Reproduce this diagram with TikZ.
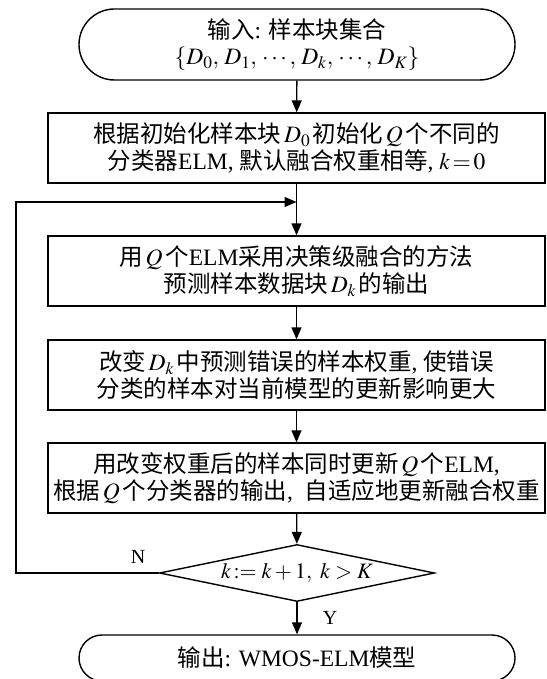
\documentclass[tikz,border=0pt]{standalone}
\usepackage{mathptmx}
\usepackage{fontspec}
\setmainfont{Liberation Serif}
\newfontfamily\cj{Noto Sans CJK SC}
\usetikzlibrary{arrows.meta,shapes.geometric,shapes.misc}
\tikzset{
  base/.style={draw, line width=1.4pt, font=\fontsize{23.5}{26.5}\selectfont, align=center, inner sep=0pt},
  proc/.style={base, rectangle, minimum width=497pt, minimum height=70pt},
  term/.style={base, rounded rectangle, minimum width=436pt},
  dec/.style={base, diamond, minimum width=275pt, minimum height=57pt, aspect=4.8},
  arr/.style={line width=1.4pt, -{Triangle[length=12pt,width=10pt]}},
  lab/.style={font=\fontsize{20}{24}\selectfont, inner sep=0pt}
}
\begin{document}
\begin{tikzpicture}[x=1pt,y=-1pt]
\useasboundingbox (0,0) rectangle (546,679);
\node[term, minimum height=71pt] (in) at (297,44.5) {{\cj 输入}: {\cj 样本块集合}\\$\{D_0,\, D_1,\, \cdots,\, D_k,\, \cdots,\, D_K\}$};
\node[proc] (b1) at (296.5,148) {{\cj 根据初始化样本块}$\,D_0\,${\cj 初始化}$\,Q\,${\cj 个不同的}\\{\cj 分类器}ELM, {\cj 默认融合权重相等}, $k\!=\!0$};
\node[proc] (b2) at (296.5,271) {{\cj 用}$\,Q\,${\cj 个}ELM{\cj 采用决策级融合的方法}\\{\cj 预测样本数据块}$\,D_k\,${\cj 的输出}};
\node[proc] (b3) at (296.5,375) {{\cj 改变}$\,D_k\,${\cj 中预测错误的样本权重}, {\cj 使错误}\\{\cj 分类的样本对当前模型的更新影响更大}};
\node[proc] (b4) at (296.5,478) {{\cj 用改变权重后的样本同时更新}$\,Q\,${\cj 个}ELM,\\{\cj 根据}$\,Q\,${\cj 个分类器的输出},\ \ {\cj 自适应地更新融合权重}};
\node[dec, font=\fontsize{22}{26}\selectfont] (d) at (297,573) {$k\!:=k+1,\ k>K$};
\node[term, minimum height=46pt] (out) at (297,658) {{\cj 输出}: WMOS-ELM{\cj 模型}};
\coordinate (lp) at (16,202);
\coordinate (mj) at (296.5,202);
\draw[arr] (in) -- (b1);
\draw[arr] (b1) -- (b2);
\draw[arr] (b2) -- (b3);
\draw[arr] (b3) -- (b4);
\draw[arr] (b4) -- (d);
\draw[arr] (d) -- (out);
\draw[arr] (d.west) -- (d.west -| lp) -- (lp) -- (mj);
\node[lab] (n) at (138,557) {N};
\node[lab] (y) at (330,618) {Y};
\end{tikzpicture}
\end{document}
